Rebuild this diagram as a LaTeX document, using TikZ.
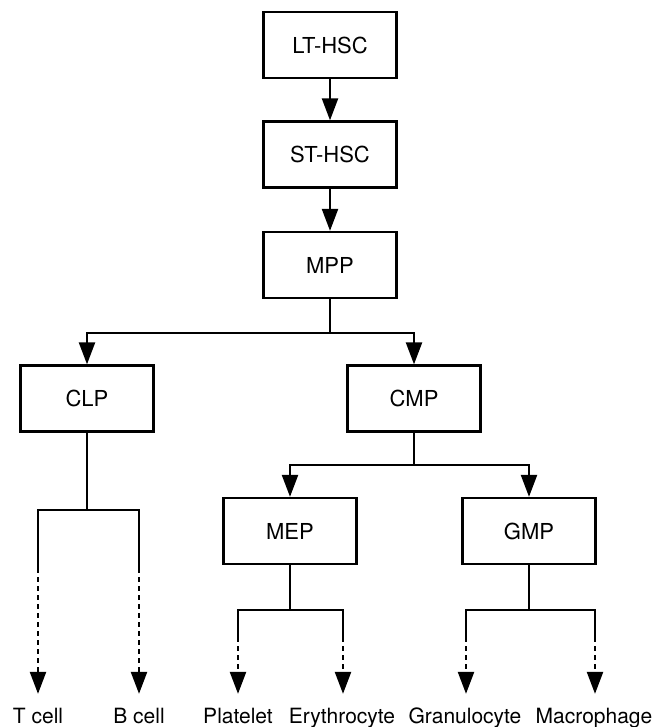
\documentclass[tikz,border=0pt]{standalone}
\usepackage{fontspec}
\setmainfont{TeX Gyre Heros}
\usetikzlibrary{arrows.meta}

\begin{document}
\begin{tikzpicture}[x=1pt, y=-1pt, line width=2.3pt,
        cellbox/.style={draw, minimum width=133pt, minimum height=66pt, inner sep=0pt, font=\fontsize{22}{26}\selectfont},
        fate/.style={inner sep=0pt, text height=15pt, text depth=4pt, anchor=base, font=\fontsize{21}{25}\selectfont},
        arr/.style={-{Triangle[length=22pt, width=16pt]}},
        fatearr/.style={arr, dash pattern=on 5pt off 4pt, shorten >=13pt}]
        \useasboundingbox (0,0) rectangle (668,727);
        % Progenitor boxes
        \node[cellbox] (lthsc) at (330,45) {LT-HSC};
        \node[cellbox] (sthsc) at (330,154.5) {ST-HSC};
        \node[cellbox] (mpp) at (330,265) {MPP};
        \node[cellbox] (clp) at (87,398.5) {CLP};
        \node[cellbox] (cmp) at (414,398.5) {CMP};
        \node[cellbox] (mep) at (290,531) {MEP};
        \node[cellbox] (gmp) at (529,531) {GMP};
        % Mature cells
        \node[fate] (tcell) at (38,723) {T cell};
        \node[fate] (bcell) at (139,723) {B cell};
        \node[fate] (plt) at (238,723) {Platelet};
        \node[fate] (ery) at (342,723) {Erythrocyte};
        \node[fate] (gran) at (465,723) {Granulocyte};
        \node[fate] (mac) at (594,723) {Macrophage};
        % Where the dashed part starts
        \coordinate (tdash) at (38,568);
        \coordinate (bdash) at (139,568);
        \coordinate (pdash) at (238,637);
        \coordinate (edash) at (343,637);
        \coordinate (gdash) at (466,637);
        \coordinate (mdash) at (595,637);
        % Connectors
        \draw[arr] (lthsc) -- (sthsc);
        \draw[arr] (sthsc) -- (mpp);
        \draw[arr] (mpp.south) -- ++(0,34) -| (clp.north);
        \draw[arr] (mpp.south) -- ++(0,34) -| (cmp.north);
        \draw[arr] (cmp.south) -- ++(0,32) -| (mep.north);
        \draw[arr] (cmp.south) -- ++(0,32) -| (gmp.north);
        \draw (clp.south) -- ++(0,77) -| (tdash);
        \draw (clp.south) -- ++(0,77) -| (bdash);
        \draw (mep.south) -- ++(0,45) -| (pdash);
        \draw (mep.south) -- ++(0,45) -| (edash);
        \draw (gmp.south) -- ++(0,45) -| (gdash);
        \draw (gmp.south) -- ++(0,45) -| (mdash);
        \draw[fatearr] (tdash) -- (tcell.north -| tdash);
        \draw[fatearr] (bdash) -- (bcell.north -| bdash);
        \draw[fatearr] (pdash) -- (plt.north -| pdash);
        \draw[fatearr] (edash) -- (ery.north -| edash);
        \draw[fatearr] (gdash) -- (gran.north -| gdash);
        \draw[fatearr] (mdash) -- (mac.north -| mdash);
    \end{tikzpicture}
\end{document}
